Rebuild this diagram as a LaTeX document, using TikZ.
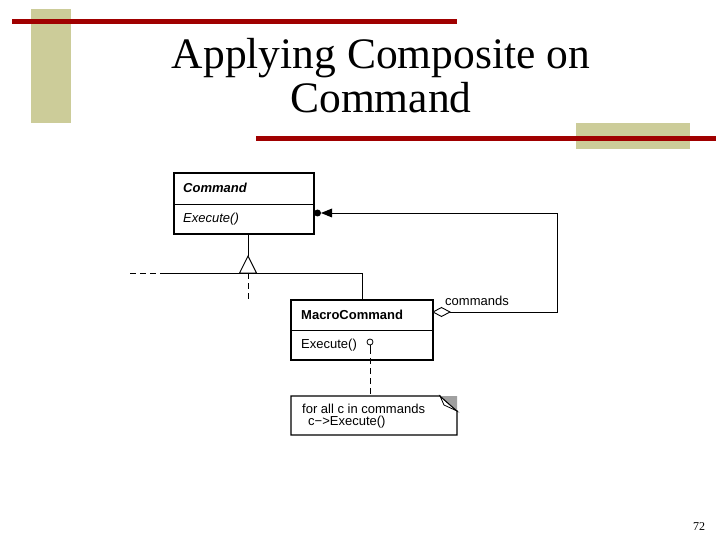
\documentclass[tikz,border=0pt]{standalone}
\usepackage{fontspec}
\setmainfont{Liberation Serif}
\setsansfont{Liberation Sans}
\usetikzlibrary{arrows.meta}
\definecolor{tan}{RGB}{204,204,153}
\definecolor{deepred}{RGB}{160,0,0}
\definecolor{notegray}{RGB}{160,160,160}
\begin{document}
\begin{tikzpicture}[x=1pt,y=-1pt,
  classbox/.style={draw,line width=1.2pt,inner sep=0pt},
  conn/.style={line width=0.9pt},
  dashconn/.style={line width=0.9pt,dash pattern=on 6pt off 4pt},
  lbl/.style={font=\sffamily\fontsize{13}{14}\selectfont,anchor=west,inner sep=0pt}]
\useasboundingbox (0,0) rectangle (720,540);
% decorations
\fill[tan] (31,9) rectangle (71,123);
\fill[tan] (576,123) rectangle (690,149);
\fill[deepred] (12,19) rectangle (457,24);
\fill[deepred] (256,136) rectangle (716,141);
% title
\node[font=\fontsize{43.5}{44}\selectfont,align=center,inner sep=0pt] (title) at (381,76) {Applying Composite on\\Command};
% Command class
\draw[classbox] (174,173) rectangle (314,234);
\draw[line width=0.8pt] (174,204) -- (314,204);
\node[lbl,font=\sffamily\bfseries\itshape\fontsize{13}{14}\selectfont] (cmdname) at (183,188) {Command};
\node[lbl,font=\sffamily\itshape\fontsize{13}{14}\selectfont] (cmdexec) at (183,219) {Execute()};
\coordinate (cmdbot) at (248,234);
\coordinate (cmdright) at (314,213);
% MacroCommand class
\draw[classbox] (291,300) rectangle (433,360);
\draw[line width=0.8pt] (291,330) -- (433,330);
\node[lbl,font=\sffamily\bfseries\fontsize{13}{14}\selectfont] (macroname) at (301,315) {MacroCommand};
\node[lbl] (macroexec) at (301,345) {Execute()};
\coordinate (macrotop) at (362,300);
\coordinate (macroright) at (433,312);
% inheritance
\coordinate (triapex) at (248,256);
\coordinate (tribase) at (248,273);
\draw[conn] (cmdbot) -- (triapex);
\draw[conn,fill=white] (triapex) -- (239.5,273) -- (256.5,273) -- cycle;
\draw[dashconn] (130,273) -- (165,273);
\draw[conn] (165,273) -- (362,273) -- (macrotop);
\draw[dashconn] (tribase) -- (248,300);
% aggregation
\draw[conn] (450,312) -- (557,312) -- (557,213) -- (332,213);
\draw[conn,fill=white] (macroright) -- (441.5,307.5) -- (450,312) -- (441.5,316.5) -- cycle;
\fill (321,213) -- (332,208.5) -- (332,217.5) -- cycle;
\fill (317.5,213) circle (3.5);
\node[lbl] (cmdslbl) at (445,301) {commands};
% note
\node[draw,circle,line width=0.8pt,inner sep=0pt,minimum size=6pt] (dot) at (370,342) {};
\coordinate (noteattach) at (370,396);
\draw[conn] (dot.south) -- (370,348);
\draw[dashconn] (370,348) -- (noteattach);
\draw[line width=1.2pt] (291,396) -- (440,396) -- (457,411) -- (457,435) -- (291,435) -- cycle;
\fill[notegray] (440,396) -- (457,396) -- (457,411) -- cycle;
\draw[line width=0.8pt] (440,396) -- (457,411) -- (444,405) -- cycle;
\node[lbl] (note1) at (302,409) {for all c in commands};
\node[lbl] (note2) at (308,422) {c−>Execute()};
% page number
\node[font=\fontsize{12}{14}\selectfont,inner sep=0pt] (page) at (699,527) {72};
\end{tikzpicture}
\end{document}
